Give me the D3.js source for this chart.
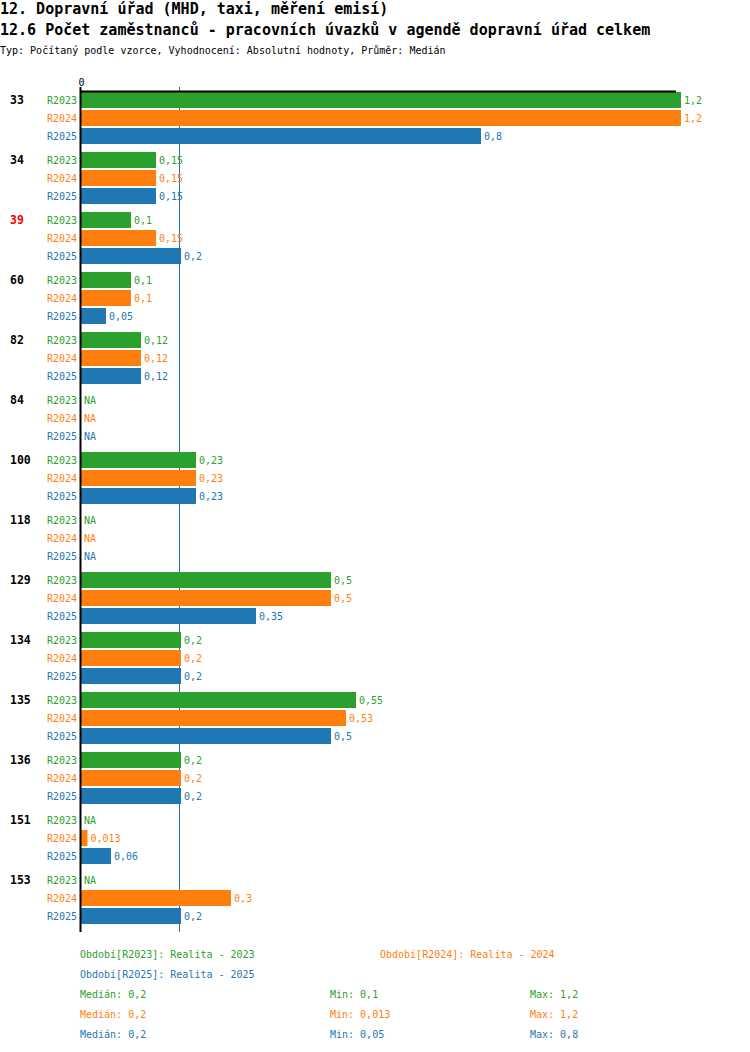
<!DOCTYPE html>
<html>
<head>
<meta charset="utf-8">
<script src="https://cdn.jsdelivr.net/npm/d3@7"></script>
<style>
    body { margin: 0; background: #fff; }
    text { font-family: "DejaVu Sans Mono", monospace; }
</style>
</head>
<body>
<div class="graph"></div>
<script>
// Chart data
const groups = ["33", "34", "39", "60", "82", "84", "100", "118", "129", "134", "135", "136", "151", "153"];
const highlighted = ["39"];
const series = ["R2023", "R2024", "R2025"];
const seriesNames = ["Realita - 2023", "Realita - 2024", "Realita - 2025"];
const colors = ["#2ca02c", "#ff7f0e", "#1f77b4"];

// null = NA
const values2023 = [1.2, 0.15, 0.1, 0.1, 0.12, null, 0.23, null, 0.5, 0.2, 0.55, 0.2, null, null];
const values2024 = [1.2, 0.15, 0.15, 0.1, 0.12, null, 0.23, null, 0.5, 0.2, 0.53, 0.2, 0.013, 0.3];
const values2025 = [0.8, 0.15, 0.2, 0.05, 0.12, null, 0.23, null, 0.35, 0.2, 0.5, 0.2, 0.06, 0.2];

const medians = [0.2, 0.2, 0.2];
const mins = [0.1, 0.013, 0.05];
const maxs = [1.2, 1.2, 0.8];
const xTicks = [0];

const title1 = "12. Dopravní úřad (MHD, taxi, měření emisí)";
const title2 = "12.6 Počet zaměstnanců - pracovních úvazků v agendě dopravní úřad celkem";
const subtitle = "Typ: Počítaný podle vzorce, Vyhodnocení: Absolutní hodnoty, Průměr: Medián";

const allValues = [values2023, values2024, values2025];
const fmt = v => String(v).replace(".", ",");

function createChart() {
    const dimensions = {
        width: 750,
        height: 1052,
        margins: { top: 92, left: 81, right: 69, bottom: 120 }
    };
    dimensions.boundedWidth = dimensions.width - dimensions.margins.left - dimensions.margins.right;
    dimensions.boundedHeight = groups.length * 60;

    const svg = d3.select(".graph")
        .append("svg")
            .attr("width", dimensions.width)
            .attr("height", dimensions.height);

    // Titles
    svg.append("text").attr("x", 0).attr("y", 14)
        .attr("font-size", 15).attr("font-weight", "bold").text(title1);
    svg.append("text").attr("x", 0).attr("y", 35)
        .attr("font-size", 15).attr("font-weight", "bold").text(title2);
    svg.append("text").attr("x", 0).attr("y", 54)
        .attr("font-size", 10).text(subtitle);

    const bounds = svg.append("g")
        .attr("transform", `translate(${dimensions.margins.left},${dimensions.margins.top})`);

    const xScale = d3.scaleLinear()
        .domain([0, 1.2])
        .range([0, dimensions.boundedWidth]);

    const yScale = d3.scaleBand()
        .domain(groups)
        .range([0, dimensions.boundedHeight]);

    const innerScale = d3.scaleBand()
        .domain(series)
        .range([0, 52])
        .paddingInner(1 / 9);

    // Median line (behind bars)
    bounds.append("line")
        .attr("x1", xScale(medians[0]) - 1.5)
        .attr("x2", xScale(medians[0]) - 1.5)
        .attr("y1", -5)
        .attr("y2", dimensions.boundedHeight)
        .attr("stroke", colors[2])
        .attr("stroke-width", 1);

    const rows = groups.map((g, i) => series.map((s, j) => ({
        group: g, series: s, idx: j, value: allValues[j][i]
    })));

    const groupG = bounds.selectAll(".group")
        .data(rows)
        .join("g")
            .attr("class", "group")
            .attr("transform", (d, i) => `translate(0,${yScale(groups[i])})`);

    // Group labels
    groupG.append("text")
        .attr("x", 10 - dimensions.margins.left)
        .attr("y", innerScale(series[0]) + innerScale.bandwidth() / 2)
        .attr("dy", "0.35em")
        .attr("font-size", 11.5)
        .attr("font-weight", "bold")
        .attr("fill", (d, i) => highlighted.includes(groups[i]) ? "#ff0000" : "#000")
        .text((d, i) => groups[i]);

    const cell = groupG.selectAll(".cell")
        .data(d => d)
        .join("g")
            .attr("class", "cell")
            .attr("transform", d => `translate(0,${innerScale(d.series)})`);

    cell.filter(d => d.value != null)
        .append("rect")
            .attr("x", 0)
            .attr("y", 0)
            .attr("width", d => xScale(d.value))
            .attr("height", innerScale.bandwidth())
            .attr("fill", d => colors[d.idx]);

    // Series labels
    cell.append("text")
        .attr("x", -4)
        .attr("y", innerScale.bandwidth() / 2)
        .attr("dy", "0.35em")
        .attr("text-anchor", "end")
        .attr("font-size", 10)
        .attr("fill", d => colors[d.idx])
        .text(d => d.series);

    // Value labels
    cell.append("text")
        .attr("x", d => (d.value == null ? 0 : xScale(d.value)) + 3)
        .attr("y", innerScale.bandwidth() / 2)
        .attr("dy", "0.35em")
        .attr("font-size", 10)
        .attr("fill", d => colors[d.idx])
        .text(d => d.value == null ? "NA" : fmt(d.value));

    // Axes
    const xAxis = bounds.append("g")
        .attr("transform", "translate(0,-0.5)")
        .call(d3.axisTop(xScale).tickValues(xTicks).tickFormat(fmt)
            .tickSize(0).tickSizeOuter(0).tickPadding(6));
    xAxis.select(".domain").attr("stroke", "#000").attr("stroke-width", 2)
        .attr("d", `M-1,0H${dimensions.boundedWidth - 5}`);
    xAxis.selectAll("text").attr("font-size", 10).attr("font-family", "DejaVu Sans Mono").attr("fill", "#000");

    bounds.append("line")
        .attr("x1", -0.5).attr("x2", -0.5)
        .attr("y1", -5).attr("y2", dimensions.boundedHeight)
        .attr("stroke", "#000")
        .attr("stroke-width", 2);

    // Legend
    const legend = svg.append("g").attr("font-size", 10);
    const legendPos = [[80, 954], [380, 954], [80, 974]];
    series.forEach((s, j) => {
        legend.append("text")
            .attr("x", legendPos[j][0]).attr("y", legendPos[j][1])
            .attr("dy", "0.35em")
            .attr("fill", colors[j])
            .text(`Období[${s}]: ${seriesNames[j]}`);
    });

    const statCols = [80, 330, 530];
    series.forEach((s, j) => {
        const y = 994 + j * 20;
        [["Medián", medians[j]], ["Min", mins[j]], ["Max", maxs[j]]].forEach(([label, v], k) => {
            legend.append("text")
                .attr("x", statCols[k]).attr("y", y)
                .attr("dy", "0.35em")
                .attr("fill", colors[j])
                .text(`${label}: ${fmt(v)}`);
        });
    });
}

createChart();
</script>
</body>
</html>
